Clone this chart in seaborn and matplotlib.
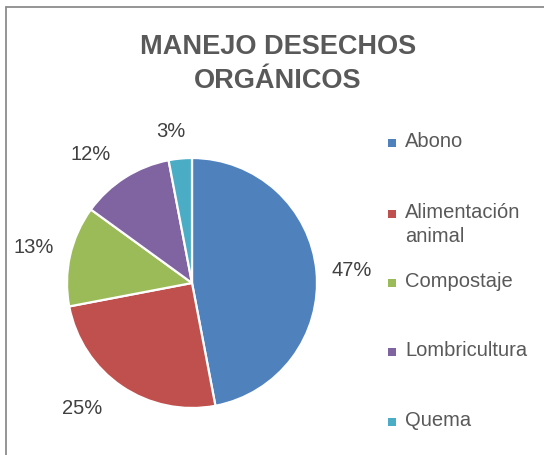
import matplotlib
matplotlib.use("Agg")
import numpy as np
import matplotlib.pyplot as plt
from matplotlib.lines import Line2D
from matplotlib.patches import Rectangle
import seaborn as sns

sns.set_theme(style="white")
plt.rcParams["font.family"] = ["Liberation Sans", "DejaVu Sans"]

# Data
categories = ["Abono", "Alimentación\nanimal", "Compostaje", "Lombricultura", "Quema"]
shares = [47, 25, 13, 12, 3]
colors = ["#4F81BD", "#C0504D", "#9BBB59", "#8064A2", "#4BACC6"]
title = "MANEJO DESECHOS\nORGÁNICOS"

W, H = 544, 455
fig = plt.figure(figsize=(W / 100, H / 100), dpi=100)
fig.patch.set_facecolor("white")

# Pie axes: centre (192, 283) px, radius 125 px
cx, cy, r = 192, 283, 125
ax = fig.add_axes([(cx - r) / W, (H - cy - r) / H, 2 * r / W, 2 * r / H])
wedges, texts, autotexts = ax.pie(
    shares,
    colors=colors,
    startangle=90,
    counterclock=False,
    autopct=lambda p: f"{p:.0f}%",
    pctdistance=1.3,
    wedgeprops=dict(edgecolor="white", linewidth=1.6),
    textprops=dict(fontsize=14.5, color="#404040"),
)

# Best-fit placement of the percentage labels (radius, angular nudge in degrees)
label_radius = [1.28, 1.33, 1.30, 1.31, 1.22]
label_nudge = [-0.8, -7.0, 0.0, 6.0, 2.6]
for w, t, rad, dth in zip(wedges, autotexts, label_radius, label_nudge):
    mid = np.deg2rad((w.theta1 + w.theta2) / 2 + dth)
    t.set_position((rad * np.cos(mid), rad * np.sin(mid)))

ax.set_xlim(-1, 1)
ax.set_ylim(-1, 1)
ax.set_aspect("equal")
ax.axis("off")

# Title
fig.text(278 / W, 1 - 64 / H, title, ha="center", va="center",
         fontsize=19.5, fontweight="bold", color="#595959", linespacing=1.4)

# Legend
legend_y = [143, 214, 283, 352, 422]
for lab, col, y in zip(categories, colors, legend_y):
    s = 8
    fig.patches.append(Rectangle(((392 - s / 2) / W, 1 - (y + s / 2) / H), s / W, s / H,
                                 transform=fig.transFigure, facecolor=col,
                                 edgecolor="none"))
    fig.text(405 / W, 1 - (y - 11) / H, lab, ha="left", va="top",
             fontsize=14.5, color="#595959", linespacing=1.3)

# Chart border (top and left edges)
bc = "#8C8C8C"
fig.lines.append(Line2D([6 / W, 6 / W], [0, 1 - 7 / H], transform=fig.transFigure,
                        color=bc, linewidth=1.3))
fig.lines.append(Line2D([6 / W, 1], [1 - 7 / H, 1 - 7 / H], transform=fig.transFigure,
                        color=bc, linewidth=1.3))

fig.savefig("out.png", dpi=100, facecolor="white")
